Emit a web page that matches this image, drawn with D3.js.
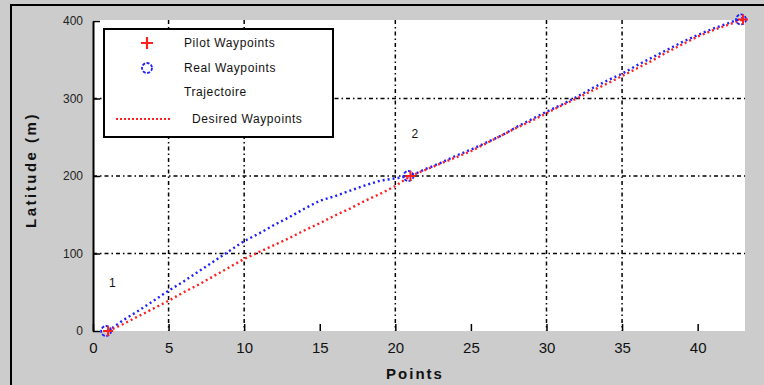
<!DOCTYPE html>
<html>
<head>
<meta charset="utf-8">
<script src="https://cdn.jsdelivr.net/npm/d3@7"></script>
<style>
  body { margin: 0; background: #cccccc; }
  svg { display: block; font-family: "Liberation Sans", Arial, sans-serif; }
</style>
</head>
<body>
<svg></svg>
<script>
// point index
let points = d3.range(1, 44);

// desired (red) and real (blue) latitude per point
let desired = [0, 9, 19, 29, 39, 50, 60, 71, 82, 93, 102, 111, 120, 130, 139, 149, 158, 168, 177, 187,
               200, 208, 216, 224, 232, 242, 252, 262, 271, 281, 291, 300, 310, 319, 329, 339, 349, 360, 370, 380,
               388, 395, 402];
let real = [0, 14, 26, 39, 52, 64, 77, 90, 103, 116, 126, 137, 147, 158, 168, 174, 181, 188, 194, 197,
            200, 209, 217, 226, 234, 243, 252, 263, 273, 283, 292, 302, 313, 323, 332, 343, 353, 363, 373, 382,
            390, 397, 404];

// waypoints
let wpX = [1, 21, 43];
let wpY = [0, 200, 402];
let wpLabels = ["1", "2"];

let xTicks = [0, 5, 10, 15, 20, 25, 30, 35, 40];
let xGrid = [5, 10, 20, 30, 35];
let yTicks = [0, 100, 200, 300, 400];
let yGrid = [100, 200, 300];

let legendItems = ["Pilot Waypoints", "Real Waypoints", "Trajectoire", "Desired Waypoints"];

let width = 764, height = 385;
let mLeft = 93, mRight = 745, mTop = 20, mBottom = 331;

let svg = d3.select("svg").attr("width", width).attr("height", height);

// figure frame
svg.append("rect")
   .attr("x", 11).attr("y", 5)
   .attr("width", 800).attr("height", 400)
   .attr("fill", "#cccccc")
   .attr("stroke", "#000").attr("stroke-width", 2);

let x = d3.scaleLinear().domain([0, 43]).range([mLeft, mRight - 2]);
let y = d3.scaleLinear().domain([0, 400]).range([mBottom, mTop + 1]);

// plot area
svg.append("rect")
   .attr("x", mLeft).attr("y", mTop)
   .attr("width", mRight - mLeft).attr("height", mBottom - mTop)
   .attr("fill", "#fff");

// grid
let grid = svg.append("g")
   .attr("stroke", "#000").attr("stroke-width", 1.5)
   .attr("stroke-dasharray", "4,3,1.5,3");
grid.selectAll(".gx").data(xGrid).enter().append("line")
   .attr("x1", d => x(d)).attr("x2", d => x(d))
   .attr("y1", mTop).attr("y2", mBottom);
grid.selectAll(".gy").data(yGrid).enter().append("line")
   .attr("y1", d => y(d)).attr("y2", d => y(d))
   .attr("x1", mLeft).attr("x2", mRight);

// x ticks inside + labels
svg.append("g")
   .attr("transform", `translate(0,${mBottom})`)
   .call(d3.axisBottom(x).tickValues(xTicks).tickSize(-7).tickPadding(11))
   .call(g => g.select(".domain").remove())
   .call(g => g.selectAll(".tick line").attr("stroke-width", 1.5))
   .call(g => g.selectAll("text").attr("font-size", 15).attr("fill", "#111"));

// y axis
svg.append("g")
   .attr("transform", `translate(${mLeft},0)`)
   .call(d3.axisLeft(y).tickValues(yTicks).tickSize(-7).tickSizeOuter(0).tickPadding(10))
   .call(g => g.select(".domain").attr("stroke-width", 2))
   .call(g => g.selectAll(".tick line").attr("stroke-width", 1.5))
   .call(g => g.selectAll("text").attr("font-size", 12).attr("fill", "#222"));

// series
let line = d3.line().x((d, i) => x(points[i])).y(d => y(d));

svg.append("path")
   .datum(real)
   .attr("d", line)
   .attr("fill", "none")
   .attr("stroke", "#1f1fff").attr("stroke-width", 2.4)
   .attr("stroke-dasharray", "2,3");

svg.append("path")
   .datum(desired)
   .attr("d", line)
   .attr("fill", "none")
   .attr("stroke", "#ff1f1f").attr("stroke-width", 2.4)
   .attr("stroke-dasharray", "2,3");

// waypoint markers
svg.selectAll(".wpc").data(wpX).enter().append("circle")
   .attr("cx", d => x(d) - 2).attr("cy", (d, i) => y(wpY[i]))
   .attr("r", 5)
   .attr("fill", "none").attr("stroke", "#1f1fff").attr("stroke-width", 1.8)
   .attr("stroke-dasharray", "3,1.5");

svg.selectAll(".wpp").data(wpX).enter().append("path")
   .attr("d", (d, i) => {
     let cx = x(d), cy = y(wpY[i]);
     return `M${cx - 5},${cy}H${cx + 5}M${cx},${cy - 5}V${cy + 5}`;
   })
   .attr("stroke", "#ff1f1f").attr("stroke-width", 2);

// waypoint labels
svg.selectAll(".wpl").data(wpLabels).enter().append("text")
   .attr("x", (d, i) => x(wpX[i]) + 1)
   .attr("y", (d, i) => y(wpY[i]) - (i === 0 ? 44 : 38))
   .attr("font-size", 12).attr("fill", "#111")
   .text(d => d);

// legend
let lg = svg.append("g").attr("transform", "translate(104,29)");
lg.append("rect")
  .attr("width", 229).attr("height", 108)
  .attr("fill", "#fff").attr("stroke", "#000").attr("stroke-width", 2);

let rowY = [14, 39, 63, 90];
lg.append("path")
  .attr("d", `M${43 - 6},${rowY[0]}H${43 + 6}M43,${rowY[0] - 6}V${rowY[0] + 6}`)
  .attr("stroke", "#ff1f1f").attr("stroke-width", 2.2);
lg.append("circle")
  .attr("cx", 43).attr("cy", rowY[1]).attr("r", 5)
  .attr("fill", "none").attr("stroke", "#1f1fff").attr("stroke-width", 1.8)
  .attr("stroke-dasharray", "3,1.5");
lg.append("line")
  .attr("x1", 12).attr("x2", 68).attr("y1", rowY[3]).attr("y2", rowY[3])
  .attr("stroke", "#ff1f1f").attr("stroke-width", 2)
  .attr("stroke-dasharray", "2,2");

lg.selectAll(".lt").data(legendItems).enter().append("text")
  .attr("x", (d, i) => i === 3 ? 88 : 80)
  .attr("y", (d, i) => rowY[i] + 4)
  .attr("font-size", 12).attr("letter-spacing", 0.6).attr("fill", "#111")
  .text(d => d);

// axis labels
svg.append("text")
   .attr("x", 415).attr("y", 379)
   .attr("text-anchor", "middle")
   .attr("font-size", 15).attr("font-weight", "bold").attr("letter-spacing", 2)
   .attr("fill", "#111")
   .text("Points");

svg.append("text")
   .attr("transform", "rotate(-90)")
   .attr("x", -170).attr("y", 36)
   .attr("text-anchor", "middle")
   .attr("font-size", 15).attr("font-weight", "bold").attr("letter-spacing", 2.5)
   .attr("fill", "#111")
   .text("Latitude (m)");
</script>
</body>
</html>
